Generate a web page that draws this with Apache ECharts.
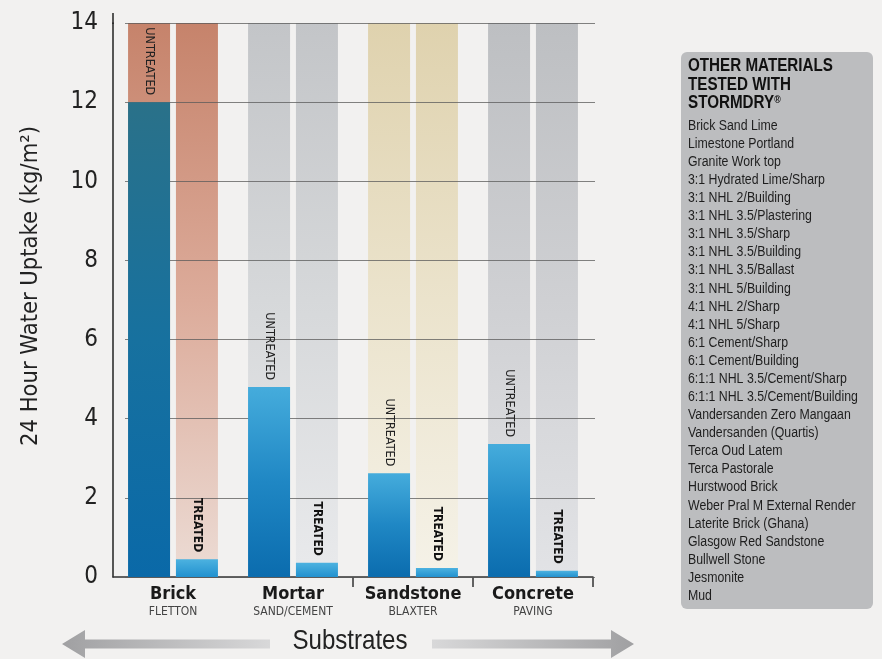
<!DOCTYPE html>
<html><head><meta charset="utf-8">
<script src="https://cdn.jsdelivr.net/npm/echarts@6/dist/echarts.min.js"></script>
<style>html,body{margin:0;padding:0;background:#f2f1f0;}#c{width:882px;height:659px;}</style>
</head><body><div id="c"></div>
<script>
// ---- data ----
const categories = ['Brick', 'Mortar', 'Sandstone', 'Concrete'];
const subLabels = ['FLETTON', 'SAND/CEMENT', 'BLAXTER', 'PAVING'];
const untreated = [12.0, 4.8, 2.62, 3.36];
const treated = [0.45, 0.36, 0.23, 0.16];
const yMin = 0, yMax = 14, yInterval = 2;
const yAxisTitle = '24 Hour Water Uptake (kg/m²)';
const xAxisTitle = 'Substrates';
const otherMaterials = [
  'Brick Sand Lime', 'Limestone Portland', 'Granite Work top', '3:1 Hydrated Lime/Sharp',
  '3:1 NHL 2/Building', '3:1 NHL 3.5/Plastering', '3:1 NHL 3.5/Sharp', '3:1 NHL 3.5/Building',
  '3:1 NHL 3.5/Ballast', '3:1 NHL 5/Building', '4:1 NHL 2/Sharp', '4:1 NHL 5/Sharp',
  '6:1 Cement/Sharp', '6:1 Cement/Building', '6:1:1 NHL 3.5/Cement/Sharp', '6:1:1 NHL 3.5/Cement/Building',
  'Vandersanden Zero Mangaan', 'Vandersanden (Quartis)', 'Terca Oud Latem', 'Terca Pastorale',
  'Hurstwood Brick', 'Weber Pral M External Render', 'Laterite Brick (Ghana)', 'Glasgow Red Sandstone',
  'Bullwell Stone', 'Jesmonite', 'Mud'
];

// ---- styles ----
const NARROW = "'DejaVu Sans Condensed','Liberation Sans',sans-serif";
const SANS = "'Liberation Sans',Arial,sans-serif";
const texture = [
  ['#c6836b', '#dcab9a', '#ecdcd5'],
  ['#c3c5c8', '#d6d8da', '#e9eaec'],
  ['#dfd2ae', '#ebe3cc', '#f5f2e8'],
  ['#bdbfc2', '#cfd0d3', '#e2e3e6']
];
function vgrad(stops) {
  return new echarts.graphic.LinearGradient(0, 0, 0, 1,
    stops.map((c, i) => ({ offset: i / (stops.length - 1), color: c })));
}
const bgData = categories.map((c, i) => ({ value: yMax, itemStyle: { color: vgrad(texture[i]) } }));
const untreatedData = untreated.map((v, i) => ({
  value: v,
  itemStyle: { color: i === 0 ? vgrad(['#2a7189', '#17719f', '#0a69a8']) : vgrad(['#45acdc', '#1f87c4', '#0b6cae']) }
}));
const treatedData = treated.map(v => ({ value: v, itemStyle: { color: vgrad(['#4cb2e0', '#2291cf']) } }));

const chart = echarts.init(document.getElementById('c'));
const G = { left: 113, right: 289, top: 23, bottom: 82 };

const items = otherMaterials.map((t, i) => ({
  type: 'text', x: 0, y: 119 + i * 18.08,
  style: { text: t, font: "14px " + SANS, fill: '#1e1e1e' }
}));

function arrowPts(tipX, headEndX, shaftEndX, cy) {
  return [[tipX, cy], [headEndX, cy - 14], [headEndX, cy - 4.5], [shaftEndX, cy - 4.5],
          [shaftEndX, cy + 4.5], [headEndX, cy + 4.5], [headEndX, cy + 14]];
}

chart.setOption({
  backgroundColor: '#f2f1f0',
  animation: false,
  grid: [
    { left: G.left, right: G.right, top: G.top, bottom: G.bottom },
    { left: 125, right: 287, top: G.top, bottom: G.bottom }
  ],
  xAxis: [
    {
      type: 'category', gridIndex: 0, data: categories,
      axisLine: { lineStyle: { color: '#333', width: 1.5 } },
      axisTick: { show: true, length: 10, lineStyle: { color: '#333', width: 1.5 },
                  interval: function (idx) { return idx >= 2; } },
      axisLabel: {
        margin: 7, interval: 0,
        formatter: function (v, i) { return '{b|' + v + '}\n{s|' + subLabels[i] + '}'; },
        rich: {
          b: { fontSize: 18, fontWeight: 'bold', color: '#1a1a1a', fontFamily: NARROW, lineHeight: 20 },
          s: { fontSize: 12, color: '#444', fontFamily: NARROW, lineHeight: 16 }
        }
      }
    },
    { type: 'category', gridIndex: 0, data: categories, show: false },
    { type: 'value', gridIndex: 1, show: false, min: 0, max: 1 }
  ],
  yAxis: [
    {
      type: 'value', gridIndex: 0, min: yMin, max: yMax, interval: yInterval,
      axisLine: { show: true, lineStyle: { color: '#222', width: 1.5 } },
      axisTick: { show: false },
      splitLine: { show: false },
      axisLabel: { fontSize: 24, color: '#222', fontFamily: NARROW, margin: 15 }
    },
    {
      type: 'value', gridIndex: 1, min: yMin, max: yMax, interval: yInterval, z: 2,
      axisLine: { show: false }, axisTick: { show: false }, axisLabel: { show: false },
      splitLine: { show: true, lineStyle: { color: 'rgba(90,90,90,0.75)', width: 1 } }
    }
  ],
  series: [
    { type: 'bar', xAxisIndex: 0, yAxisIndex: 0, data: bgData, barWidth: 42, barGap: '14%', z: 1, silent: true },
    { type: 'bar', xAxisIndex: 0, yAxisIndex: 0, data: bgData, barWidth: 42, barGap: '14%', z: 1, silent: true },
    {
      type: 'bar', name: 'Untreated', xAxisIndex: 1, yAxisIndex: 0, data: untreatedData, barWidth: 42, barGap: '14%', z: 3,
      label: { show: true, position: 'top', rotate: -90, align: 'right', verticalAlign: 'middle', distance: 7,
               formatter: 'UNTREATED', fontSize: 12.5, color: '#222', fontFamily: NARROW }
    },
    {
      type: 'bar', name: 'Treated', xAxisIndex: 1, yAxisIndex: 0, data: treatedData, barWidth: 42, barGap: '14%', z: 3,
      label: { show: true, position: 'top', rotate: -90, align: 'right', verticalAlign: 'middle', distance: 7,
               formatter: 'TREATED', fontSize: 12, fontWeight: 'bold', color: '#111', fontFamily: NARROW }
    }
  ],
  graphic: [
    { type: 'line', shape: { x1: 113, y1: 13, x2: 113, y2: 24 }, style: { stroke: '#222', lineWidth: 1.5 } },
    { type: 'group', x: 31, y: 286, rotation: Math.PI / 2,
      children: [{ type: 'text', x: 0, y: 0,
        style: { text: yAxisTitle, font: "23.5px " + NARROW, fill: '#222', textAlign: 'center', textVerticalAlign: 'middle' } }] },
    { type: 'polygon', shape: { points: arrowPts(62, 85, 270, 644) },
      style: { fill: new echarts.graphic.LinearGradient(0, 0, 1, 0, [{ offset: 0, color: '#a0a0a2' }, { offset: 1, color: '#d8d8d9' }]) } },
    { type: 'polygon', shape: { points: arrowPts(634, 611, 432, 644) },
      style: { fill: new echarts.graphic.LinearGradient(0, 0, 1, 0, [{ offset: 0, color: '#d8d8d9' }, { offset: 1, color: '#a0a0a2' }]) } },
    { type: 'group', x: 350, y: 627, scaleX: 0.86,
      children: [{ type: 'text', x: 0, y: 0,
        style: { text: xAxisTitle, font: "28px " + SANS, fill: '#222', textAlign: 'center' } }] },
    { type: 'rect', shape: { x: 681, y: 52, width: 192, height: 557, r: 6 }, style: { fill: '#bcbdbf' } },
    { type: 'group', x: 688, y: 0, scaleX: 0.8,
      children: [
        { type: 'text', x: 0, y: 57,
          style: { text: '{t|OTHER MATERIALS}\n{t|TESTED WITH}\n{t|STORMDRY}{r|®}',
                   rich: { t: { font: "bold 19px " + SANS, fill: '#111', lineHeight: 18.5 },
                           r: { font: "bold 11px " + SANS, fill: '#111', verticalAlign: 'top', lineHeight: 18.5 } } } }
      ] },
    { type: 'group', x: 688, y: 0, scaleX: 0.88, children: items }
  ]
});
</script>
</body></html>
